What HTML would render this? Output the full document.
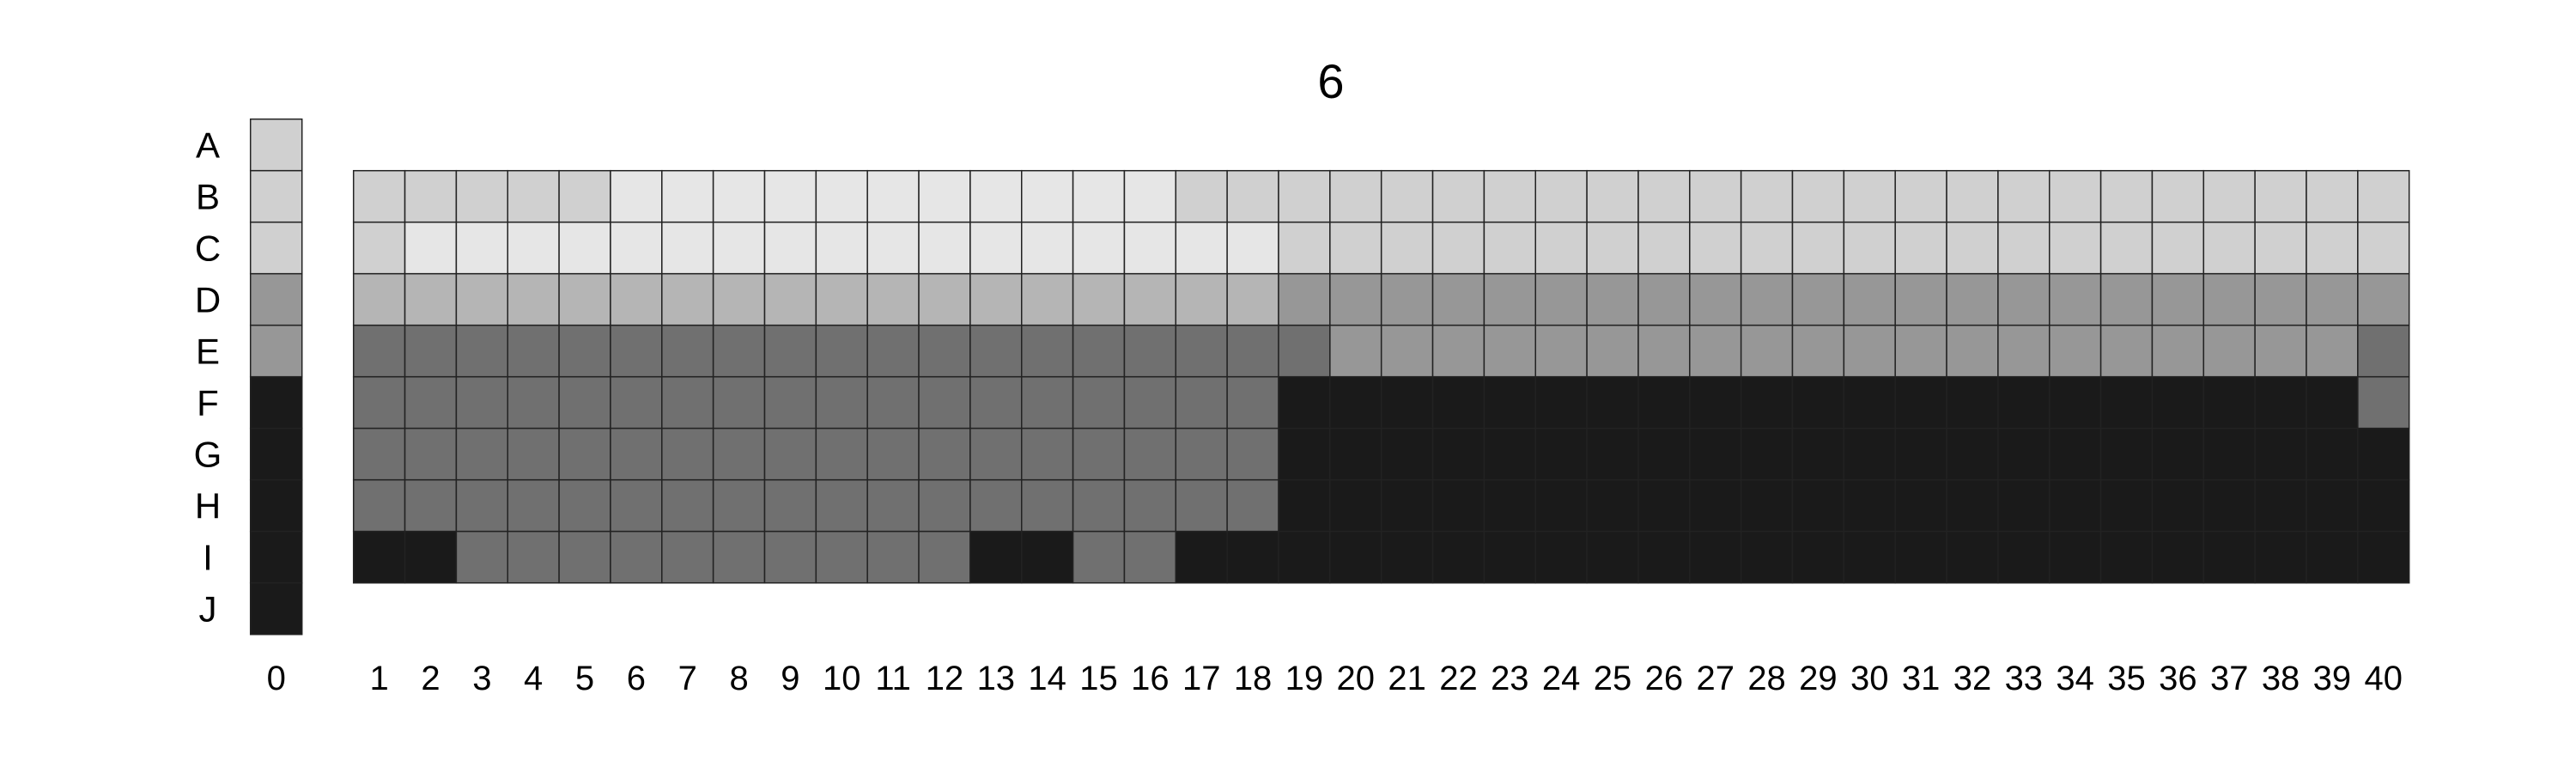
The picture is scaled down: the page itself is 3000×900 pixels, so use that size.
<!DOCTYPE html>
<html><head><meta charset="utf-8"><style>
html,body{margin:0;padding:0;background:#fff;}
svg{display:block;font-family:"Liberation Sans",sans-serif;}
</style></head><body>
<svg id="chart" width="3000" height="900" viewBox="0 0 3000 900">
<text x="1550" y="114" font-size="56" text-anchor="middle">6</text>
<g id="cells"></g>
<g id="labels"></g>
</svg>
<script>
const rowLabels = ["A","B","C","D","E","F","G","H","I","J"];
const colLabels = ["0","1","2","3","4","5","6","7","8","9","10","11","12","13","14","15","16","17","18","19","20","21","22","23","24","25","26","27","28","29","30","31","32","33","34","35","36","37","38","39","40"];
// levels: 0=#e6e6e6 1=#d0d0d0 2=#b5b5b5 3=#979797 4=#707070 5=#1a1a1a
const col0Values = [1,1,1,3,3,5,5,5,5,5];
// rows B..I, columns 1..40
const gridB = [1,1,1,1,1,0,0,0,0,0,0,0,0,0,0,0,1,1,1,1,1,1,1,1,1,1,1,1,1,1,1,1,1,1,1,1,1,1,1,1];
const gridC = [1,0,0,0,0,0,0,0,0,0,0,0,0,0,0,0,0,0,1,1,1,1,1,1,1,1,1,1,1,1,1,1,1,1,1,1,1,1,1,1];
const gridD = [2,2,2,2,2,2,2,2,2,2,2,2,2,2,2,2,2,2,3,3,3,3,3,3,3,3,3,3,3,3,3,3,3,3,3,3,3,3,3,3];
const gridE = [4,4,4,4,4,4,4,4,4,4,4,4,4,4,4,4,4,4,4,3,3,3,3,3,3,3,3,3,3,3,3,3,3,3,3,3,3,3,3,4];
const gridF = [4,4,4,4,4,4,4,4,4,4,4,4,4,4,4,4,4,4,5,5,5,5,5,5,5,5,5,5,5,5,5,5,5,5,5,5,5,5,5,4];
const gridG = [4,4,4,4,4,4,4,4,4,4,4,4,4,4,4,4,4,4,5,5,5,5,5,5,5,5,5,5,5,5,5,5,5,5,5,5,5,5,5,5];
const gridH = [4,4,4,4,4,4,4,4,4,4,4,4,4,4,4,4,4,4,5,5,5,5,5,5,5,5,5,5,5,5,5,5,5,5,5,5,5,5,5,5];
const gridI = [5,5,4,4,4,4,4,4,4,4,4,4,5,5,4,4,5,5,5,5,5,5,5,5,5,5,5,5,5,5,5,5,5,5,5,5,5,5,5,5];
const mainRows = [gridB,gridC,gridD,gridE,gridF,gridG,gridH,gridI];

const palette = ["#e6e6e6","#d0d0d0","#b5b5b5","#979797","#707070","#1a1a1a"];
const NS = "http://www.w3.org/2000/svg";
const top0 = 138.7, rowH = 60;
const col0X = 291.7, col0W = 60;
const mainX = 411.7, cellW = 59.85;
const yRow = i => top0 + i * rowH;
const xCol = c => c === 0 ? col0X : mainX + (c - 1) * cellW;
const wCol = c => c === 0 ? col0W : cellW;
const cells = document.getElementById('cells');
const labels = document.getElementById('labels');

function cell(c, r, v) {
  const el = document.createElementNS(NS, 'rect');
  el.setAttribute('x', xCol(c)); el.setAttribute('y', yRow(r));
  el.setAttribute('width', wCol(c)); el.setAttribute('height', rowH);
  el.setAttribute('fill', palette[v]);
  el.setAttribute('stroke', '#222'); el.setAttribute('stroke-width', '1.5');
  
  
  cells.appendChild(el);
}
col0Values.forEach((v, r) => cell(0, r, v));
mainRows.forEach((row, i) => row.forEach((v, j) => cell(j + 1, i + 1, v)));

rowLabels.forEach((lab, r) => {
  const t = document.createElementNS(NS, 'text');
  t.setAttribute('x', 242); t.setAttribute('y', yRow(r) + rowH / 2 + 15);
  t.setAttribute('font-size', '42'); t.setAttribute('text-anchor', 'middle');
  t.textContent = lab;
  
  
  labels.appendChild(t);
});
colLabels.forEach((lab, c) => {
  const t = document.createElementNS(NS, 'text');
  t.setAttribute('x', xCol(c) + wCol(c) / 2); t.setAttribute('y', 803);
  t.setAttribute('font-size', '40'); t.setAttribute('text-anchor', 'middle');
  t.textContent = lab;
  
  
  labels.appendChild(t);
});
</script>
</body></html>
